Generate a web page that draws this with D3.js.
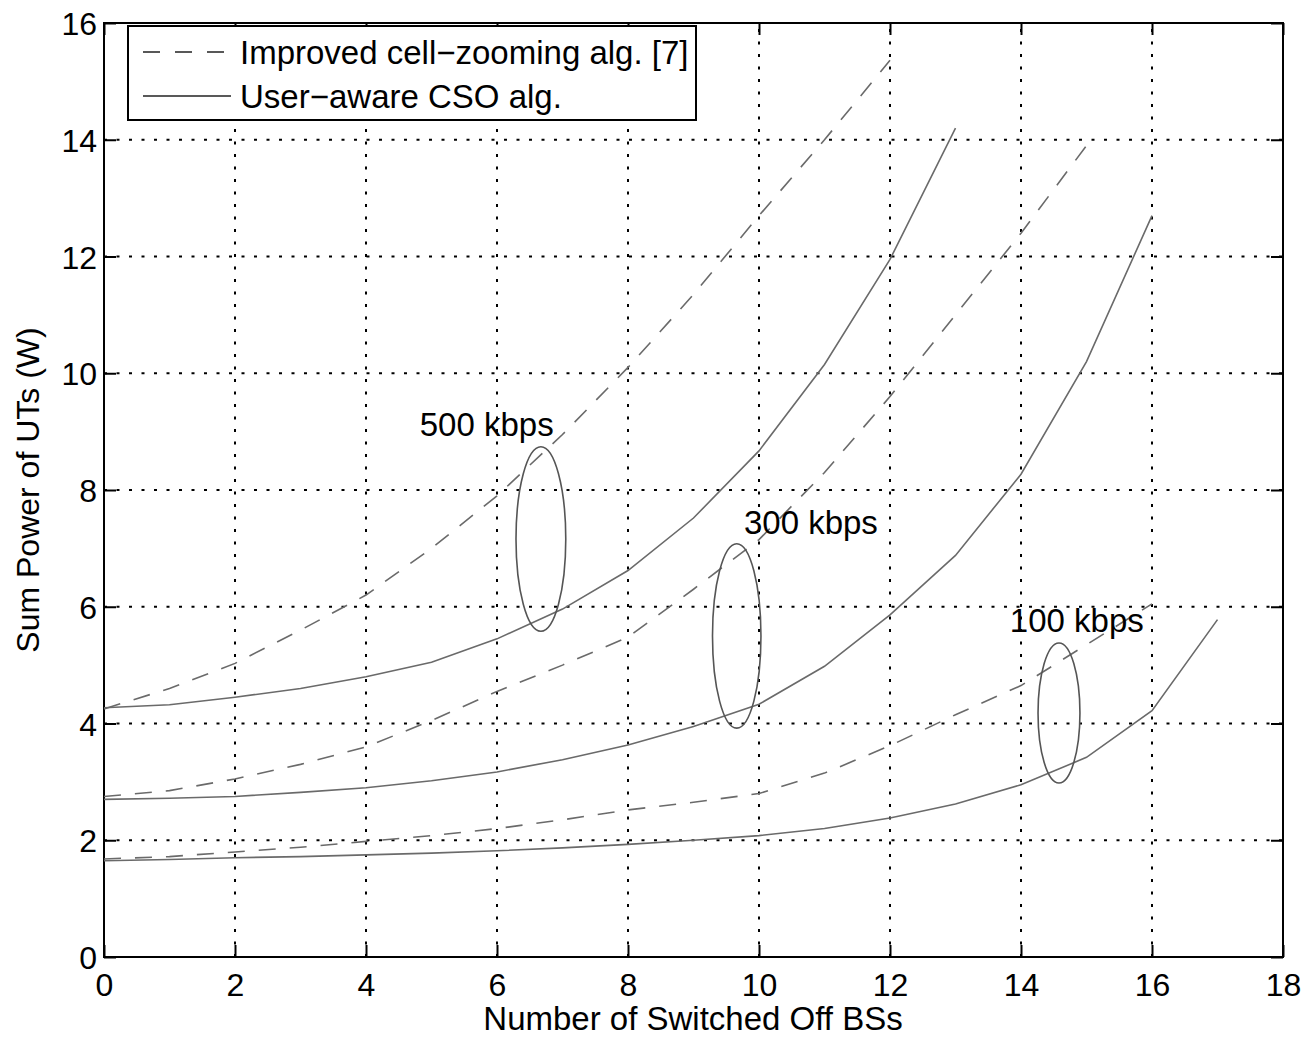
<!DOCTYPE html>
<html>
<head>
<meta charset="utf-8">
<script src="https://cdn.jsdelivr.net/npm/d3@7"></script>
<style>
  html, body { margin: 0; padding: 0; background: #fff; }
  svg text { font-family: "Liberation Sans", Arial, sans-serif; fill: #000; }
</style>
</head>
<body>
<svg id="chart" width="1303" height="1038"></svg>
<script>
// ---- data ----
const xTicks = [0, 2, 4, 6, 8, 10, 12, 14, 16, 18];
const yTicks = [0, 2, 4, 6, 8, 10, 12, 14, 16];

const improved500 = [4.25, 4.6, 5.03, 5.6, 6.2, 7.0, 7.9, 8.95, 10.1, 11.35, 12.7, 14.0, 15.36];
const userAware500 = [4.27, 4.32, 4.45, 4.6, 4.8, 5.05, 5.45, 5.96, 6.62, 7.52, 8.67, 10.15, 11.95, 14.2];
const improved300 = [2.75, 2.85, 3.05, 3.3, 3.6, 4.05, 4.55, 5.0, 5.48, 6.3, 7.15, 8.3, 9.6, 11.0, 12.4, 13.9];
const userAware300 = [2.7, 2.72, 2.75, 2.82, 2.9, 3.02, 3.17, 3.38, 3.63, 3.95, 4.33, 4.98, 5.86, 6.88, 8.27, 10.2, 12.7];
const improved100 = [1.68, 1.72, 1.8, 1.88, 1.98, 2.08, 2.2, 2.35, 2.52, 2.65, 2.8, 3.15, 3.62, 4.15, 4.65, 5.35, 6.05];
const userAware100 = [1.65, 1.67, 1.7, 1.72, 1.75, 1.78, 1.82, 1.87, 1.93, 2.0, 2.08, 2.2, 2.38, 2.62, 2.95, 3.42, 4.22, 5.78];

const seriesNames = ["Improved cell\u2212zooming alg. [7]", "User\u2212aware CSO alg."];
const rateLabels = ["500 kbps", "300 kbps", "100 kbps"];
// ellipse groupings in data units: centre x, centre y, half-width, half-height
const groupEllipses = [
  {cx: 6.67, cy: 7.16, rx: 0.38, ry: 1.58},
  {cx: 9.66, cy: 5.50, rx: 0.37, ry: 1.58},
  {cx: 14.58, cy: 4.18, rx: 0.32, ry: 1.20}
];
const labelAnchors = [
  {x: 4.82, y: 9.13},
  {x: 9.77, y: 7.45},
  {x: 13.83, y: 5.77}
];
const xLabel = "Number of Switched Off BSs";
const yLabel = "Sum Power of UTs (W)";

// ---- layout ----
const L = 104, R = 1283, T = 23, B = 957;
const svg = d3.select("#chart");
const x = d3.scaleLinear().domain([0, 18]).range([L, R]);
const y = d3.scaleLinear().domain([0, 16]).range([B, T]);

const FS = 32, FS2 = 33;

// grid
const grid = svg.append("g");
grid.selectAll(".vg").data(xTicks.slice(1, -1)).join("line")
  .attr("x1", d => x(d)).attr("x2", d => x(d)).attr("y1", B).attr("y2", T)
  .attr("stroke", "#000").attr("stroke-width", 2).attr("stroke-dasharray", "3,9.5");
grid.selectAll(".hg").data(yTicks.slice(1, -1)).join("line")
  .attr("y1", d => y(d)).attr("y2", d => y(d)).attr("x1", L).attr("x2", R)
  .attr("stroke", "#000").attr("stroke-width", 2).attr("stroke-dasharray", "3,9.5");

// axes with inner ticks (MATLAB style)
const tickLen = 12;
const axB = svg.append("g").attr("transform", `translate(0,${B})`)
  .call(d3.axisBottom(x).tickValues(xTicks).tickSize(-tickLen).tickPadding(16));
const axT = svg.append("g").attr("transform", `translate(0,${T})`)
  .call(d3.axisTop(x).tickValues(xTicks).tickSize(-tickLen).tickFormat(""));
const axL = svg.append("g").attr("transform", `translate(${L},0)`)
  .call(d3.axisLeft(y).tickValues(yTicks).tickSize(-tickLen).tickPadding(7));
const axR = svg.append("g").attr("transform", `translate(${R},0)`)
  .call(d3.axisRight(y).tickValues(yTicks).tickSize(-tickLen).tickFormat(""));
[axB, axT, axL, axR].forEach(a => {
  a.select(".domain").remove();
  a.selectAll(".tick line").attr("stroke", "#000").attr("stroke-width", 2);
  a.selectAll("text").style("font-size", FS + "px").style("font-family", "'Liberation Sans', Arial, sans-serif").attr("fill", "#000");
});
axB.selectAll("text").attr("dy", "0.71em");
axL.selectAll("text").attr("dy", "0.36em");

// frame
svg.append("rect").attr("x", L).attr("y", T).attr("width", R - L).attr("height", B - T)
  .attr("fill", "none").attr("stroke", "#000").attr("stroke-width", 2);

// curves
const line = d3.line().x((d, i) => x(i)).y(d => y(d));
const curves = [
  {data: improved500, dashed: true}, {data: userAware500, dashed: false},
  {data: improved300, dashed: true}, {data: userAware300, dashed: false},
  {data: improved100, dashed: true}, {data: userAware100, dashed: false}
];
const curveColor = "#6a6a6a";
svg.append("g").selectAll("path").data(curves).join("path")
  .attr("d", d => line(d.data))
  .attr("fill", "none").attr("stroke", curveColor).attr("stroke-width", 1.6)
  .attr("stroke-dasharray", d => d.dashed ? "17,14" : null);

// ellipses
svg.append("g").selectAll("ellipse").data(groupEllipses).join("ellipse")
  .attr("cx", d => x(d.cx)).attr("cy", d => y(d.cy))
  .attr("rx", d => x(d.cx + d.rx) - x(d.cx)).attr("ry", d => y(d.cy - d.ry) - y(d.cy))
  .attr("fill", "none").attr("stroke", "#555").attr("stroke-width", 1.6);

// rate labels
svg.append("g").selectAll("text").data(rateLabels).join("text")
  .attr("x", (d, i) => x(labelAnchors[i].x)).attr("y", (d, i) => y(labelAnchors[i].y))
  .attr("dy", "0.36em").style("font-size", FS2 + "px").text(d => d);

// legend
const lg = svg.append("g");
lg.append("rect").attr("x", 128).attr("y", 26).attr("width", 568).attr("height", 94)
  .attr("fill", "#fff").attr("stroke", "#000").attr("stroke-width", 2);
seriesNames.forEach((name, i) => {
  const ly = 52 + i * 44;
  lg.append("line").attr("x1", 143).attr("x2", 231).attr("y1", ly).attr("y2", ly)
    .attr("stroke", "#222").attr("stroke-width", 1.7)
    .attr("stroke-dasharray", i === 0 ? "17,15" : null);
  lg.append("text").attr("x", 240).attr("y", ly).attr("dy", "0.36em")
    .style("font-size", FS2 + "px").text(name);
});

// axis labels
svg.append("text").attr("x", 693).attr("y", 1030)
  .attr("text-anchor", "middle").style("font-size", FS2 + "px").text(xLabel);
svg.append("text").attr("transform", `translate(27,${(T + B) / 2}) rotate(-90)`)
  .attr("dy", "0.36em").attr("text-anchor", "middle").style("font-size", FS + "px").text(yLabel);
</script>
</body>
</html>
